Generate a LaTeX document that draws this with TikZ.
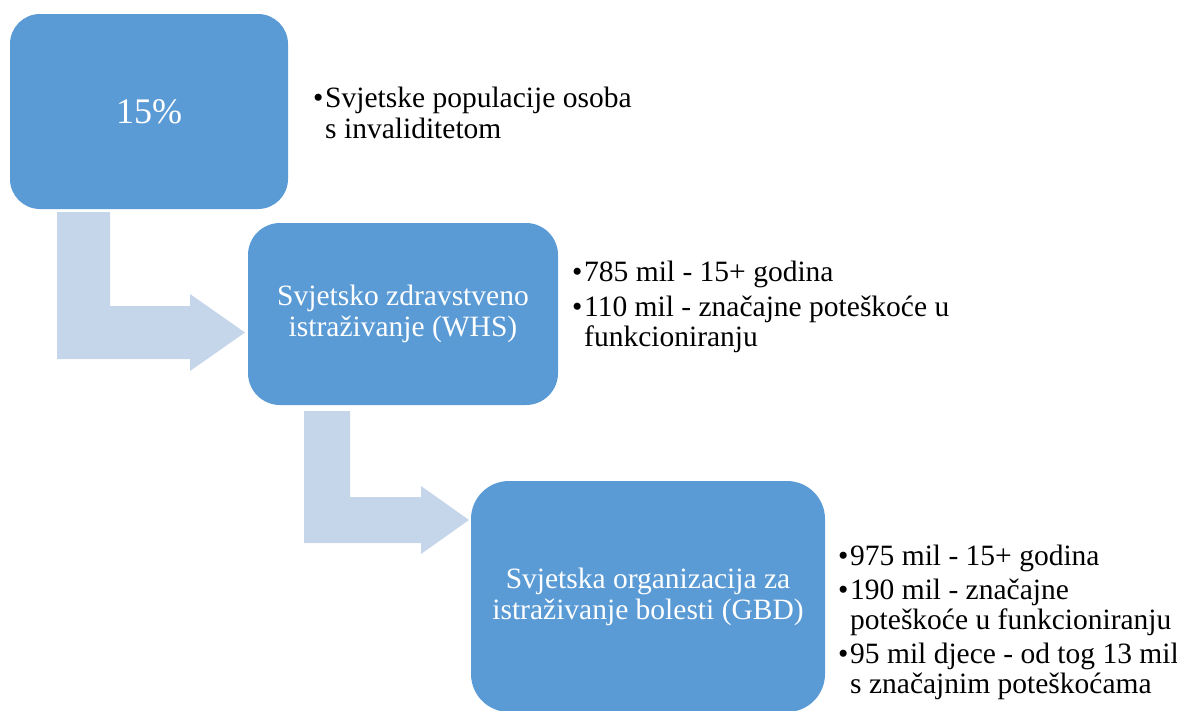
\documentclass[tikz,border=0pt]{standalone}
\usepackage{fontspec}
\setmainfont{Liberation Serif}
\definecolor{boxblue}{HTML}{5B9BD5}
\definecolor{arrowblue}{HTML}{C5D5EA}
\newcommand{\bul}{\makebox[12pt][l]{\textbullet}}
\newcommand{\ind}{\hspace*{12pt}}

\begin{document}
\begin{tikzpicture}[x=1pt, y=-1pt,
    blok/.style={fill=boxblue, text=white, align=center, inner sep=0,
        font=\fontsize{29.5}{31}\selectfont},
    opis/.style={anchor=north west, align=left, inner sep=0,
        font=\fontsize{29.5}{30.5}\selectfont},
    strelica/.style={fill=arrowblue}]
    % okvir slike
    \useasboundingbox (0, 0) rectangle (1177, 710);

    % savijene strelice
    \fill[strelica] (57, 212) -- (57, 359) -- (190, 359) -- (190, 371)
        -- (245, 332.5) -- (190, 294) -- (190, 306) -- (110, 306) -- (110, 212) -- cycle;
    \fill[strelica] (304, 411) -- (304, 543) -- (421, 543) -- (421, 554)
        -- (469, 520) -- (421, 486) -- (421, 497) -- (350, 497) -- (350, 411) -- cycle;

    \node[blok, rounded corners=30pt, minimum width=278pt, minimum height=195pt,
        font=\fontsize{36}{40}\selectfont] (B1) at (149, 111.5) {15\%};
    \node[blok, rounded corners=32pt, minimum width=310pt, minimum height=182pt]
        (B2) at (403, 314) {Svjetsko zdravstveno\\istraživanje (WHS)};
    \node[blok, rounded corners=38pt, minimum width=354pt, minimum height=231pt]
        (B3) at (648, 596.5) {Svjetska organizacija za\\istraživanje bolesti (GBD)};

    \node[opis] (T1) at (313, 87) {\bul Svjetske populacije osoba\\ \ind s invaliditetom};
    \node[opis] (T2) at (572, 261) {\bul 785 mil - 15+ godina\\[4pt]
        \bul 110 mil - značajne poteškoće u\\ \ind funkcioniranju};
    \node[opis] (T3) at (838, 545) {\bul 975 mil - 15+ godina\\[3pt]
        \bul 190 mil - značajne\\ \ind poteškoće u funkcioniranju\\[3pt]
        \bul 95 mil djece - od tog 13 mil\\ \ind s značajnim poteškoćama};
\end{tikzpicture}
\end{document}
